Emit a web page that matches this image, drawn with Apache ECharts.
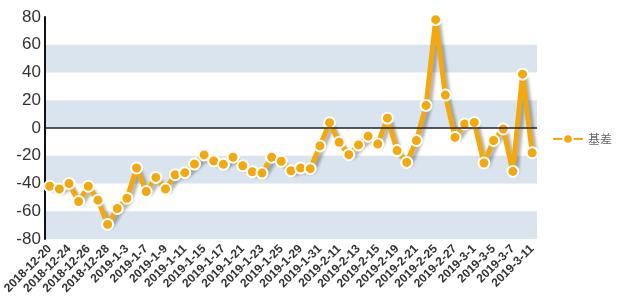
<!DOCTYPE html>
<html><head><meta charset="utf-8">
<script src="https://cdn.jsdelivr.net/npm/echarts@6/dist/echarts.min.js"></script>
<style>html,body{margin:0;padding:0;background:#fff}#c{width:620px;height:304px}</style>
</head><body><div id="c"></div>
<script>
const categories = ['2018-12-20','2018-12-21','2018-12-24','2018-12-25','2018-12-26','2018-12-27','2018-12-28',
'2019-1-2','2019-1-3','2019-1-4','2019-1-7','2019-1-8','2019-1-9','2019-1-10','2019-1-11','2019-1-14','2019-1-15','2019-1-16','2019-1-17','2019-1-18','2019-1-21','2019-1-22','2019-1-23','2019-1-24','2019-1-25','2019-1-28','2019-1-29','2019-1-30','2019-1-31',
'2019-2-1','2019-2-11','2019-2-12','2019-2-13','2019-2-14','2019-2-15','2019-2-18','2019-2-19','2019-2-20','2019-2-21','2019-2-22','2019-2-25','2019-2-26','2019-2-27','2019-2-28',
'2019-3-1','2019-3-4','2019-3-5','2019-3-6','2019-3-7','2019-3-8','2019-3-11'];
const basis = [-42,-44,-40,-53,-42,-52,-69.5,-58,-50.6,-28.8,-45.8,-35.6,-44,-33.7,-32.2,-26,-19.4,-23.8,-26.2,-21.1,-27.2,-31.5,-32.5,-21.1,-24,-30.8,-28.8,-29.3,-12.9,
3.8,-10.3,-19.2,-12.2,-5.9,-11.5,7.1,-16.3,-24.8,-9,16.3,78.1,23.7,-6.8,2.9,4,-25.2,-9,-0.7,-31.3,38.8,-17.8];
const seriesName = '基差';
const yTicks = {min:-80, max:80, interval:20};

const chart = echarts.init(document.getElementById('c'), null, {renderer:'canvas'});
chart.setOption({
  animation:false,
  grid:{left:41, right:83, top:17, bottom:65, containLabel:false},
  legend:{
    orient:'vertical', right:3, top:128, itemWidth:30, itemHeight:12, itemGap:8,
    textStyle:{fontSize:12, color:'#666', fontFamily:'Noto Sans CJK SC'},
    data:[seriesName]
  },
  xAxis:{
    type:'category', data:categories, boundaryGap:true,
    axisLine:{show:false}, axisTick:{show:false},
    axisLabel:{rotate:45, interval:1, fontSize:12, fontWeight:'bold', color:'#333', margin:8, fontFamily:'Liberation Sans'}
  },
  yAxis:{
    type:'value', min:yTicks.min, max:yTicks.max, interval:yTicks.interval,
    axisLine:{show:true, lineStyle:{color:'#111', width:2}},
    axisTick:{show:false},
    axisLabel:{fontSize:17, color:'#333', margin:4, fontFamily:'Liberation Sans'},
    splitLine:{show:false},
    splitArea:{show:true, areaStyle:{color:['#d9e4ef','rgba(255,255,255,0)']}}
  },
  series:[{
    name:seriesName, type:'line', data:basis,
    symbol:'circle', symbolSize:11, showAllSymbol:true,
    itemStyle:{color:'#f3a80d', borderColor:'#fff', borderWidth:2},
    lineStyle:{color:'#f3a80d', width:5, shadowColor:'rgba(0,0,0,0.3)', shadowBlur:3, shadowOffsetX:3, shadowOffsetY:3},
    markLine:{silent:true, symbol:'none', label:{show:false},
      lineStyle:{color:'#222', width:1.5, type:'solid'},
      data:[{yAxis:0}]}
  }]
});
</script></body></html>
